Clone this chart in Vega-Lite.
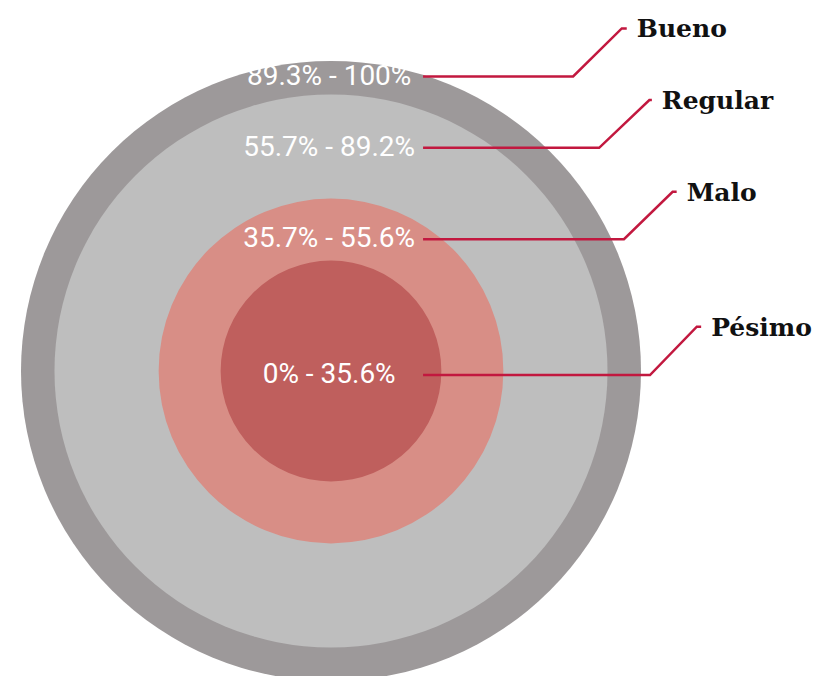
{
  "$schema": "https://vega.github.io/schema/vega-lite/v6.json",
  "width": 817,
  "height": 676,
  "padding": 0,
  "autosize": {"type": "none"},
  "background": "white",
  "config": {"view": {"stroke": null}},
  "datasets": {
    "niveles": [
      {"categoria": "Bueno", "rango": "89.3% - 100%", "max": 100, "y": 95.0},
      {"categoria": "Regular", "rango": "55.7% - 89.2%", "max": 89.2, "y": 72.0},
      {"categoria": "Malo", "rango": "35.7% - 55.6%", "max": 55.6, "y": 42.5},
      {"categoria": "Pésimo", "rango": "0% - 35.6%", "max": 35.6, "y": -1.3}
    ],
    "guias": [
      {"categoria": "Bueno", "orden": 1, "x": 29.7, "y": 95.0},
      {"categoria": "Bueno", "orden": 2, "x": 78.1, "y": 95.0},
      {"categoria": "Bueno", "orden": 3, "x": 93.8, "y": 110.5},
      {"categoria": "Bueno", "orden": 4, "x": 95.4, "y": 110.5},
      {"categoria": "Regular", "orden": 1, "x": 29.7, "y": 72.0},
      {"categoria": "Regular", "orden": 2, "x": 86.5, "y": 72.0},
      {"categoria": "Regular", "orden": 3, "x": 102.7, "y": 87.4},
      {"categoria": "Regular", "orden": 4, "x": 103.5, "y": 87.4},
      {"categoria": "Malo", "orden": 1, "x": 29.7, "y": 42.5},
      {"categoria": "Malo", "orden": 2, "x": 94.5, "y": 42.5},
      {"categoria": "Malo", "orden": 3, "x": 110.2, "y": 57.8},
      {"categoria": "Malo", "orden": 4, "x": 111.5, "y": 57.8},
      {"categoria": "Pésimo", "orden": 1, "x": 29.7, "y": -1.3},
      {"categoria": "Pésimo", "orden": 2, "x": 102.9, "y": -1.3},
      {"categoria": "Pésimo", "orden": 3, "x": 118.0, "y": 14.3},
      {"categoria": "Pésimo", "orden": 4, "x": 119.4, "y": 14.3}
    ]
  },
  "layer": [
    {
      "data": {"name": "niveles"},
      "mark": {"type": "point", "shape": "circle", "filled": true, "opacity": 1, "strokeWidth": 0},
      "encoding": {
        "x": {"datum": 0, "type": "quantitative", "scale": {"domain": [-106.77, 156.77], "nice": false, "zero": false}, "axis": null},
        "y": {"datum": 0, "type": "quantitative", "scale": {"domain": [-98.39, 119.68], "nice": false, "zero": false}, "axis": null},
        "size": {"field": "max", "type": "quantitative", "scale": {"type": "pow", "exponent": 2, "domain": [0, 100], "range": [0, 384400]}, "legend": null},
        "color": {"field": "categoria", "type": "nominal", "scale": {"domain": ["Bueno", "Regular", "Malo", "Pésimo"], "range": ["#9d999a", "#bebebe", "#d88e86", "#bf5f5d"]}, "legend": null},
        "order": {"field": "max", "type": "quantitative", "sort": "descending"}
      }
    },
    {
      "data": {"name": "guias"},
      "mark": {"type": "line", "color": "#c2183f", "strokeWidth": 2.5, "strokeJoin": "miter"},
      "encoding": {
        "x": {"field": "x", "type": "quantitative", "scale": {"domain": [-106.77, 156.77], "nice": false, "zero": false}, "axis": null},
        "y": {"field": "y", "type": "quantitative", "scale": {"domain": [-98.39, 119.68], "nice": false, "zero": false}, "axis": null},
        "detail": {"field": "categoria", "type": "nominal"},
        "order": {"field": "orden", "type": "quantitative"}
      }
    },
    {
      "data": {"name": "niveles"},
      "mark": {"type": "text", "font": "Roboto", "fontSize": 28, "color": "white", "align": "center", "baseline": "middle"},
      "encoding": {
        "x": {"datum": -0.6, "type": "quantitative", "scale": {"domain": [-106.77, 156.77], "nice": false, "zero": false}, "axis": null},
        "y": {"field": "y", "type": "quantitative", "scale": {"domain": [-98.39, 119.68], "nice": false, "zero": false}, "axis": null},
        "text": {"field": "rango", "type": "nominal"}
      }
    },
    {
      "data": {"name": "guias"},
      "transform": [{"filter": "datum.orden == 4"}],
      "mark": {"type": "text", "font": "DejaVu Serif", "fontWeight": "bold", "fontSize": 25, "color": "#111111", "align": "left", "baseline": "middle", "dx": 10, "dy": 1},
      "encoding": {
        "x": {"field": "x", "type": "quantitative", "scale": {"domain": [-106.77, 156.77], "nice": false, "zero": false}, "axis": null},
        "y": {"field": "y", "type": "quantitative", "scale": {"domain": [-98.39, 119.68], "nice": false, "zero": false}, "axis": null},
        "text": {"field": "categoria", "type": "nominal"}
      }
    }
  ]
}
